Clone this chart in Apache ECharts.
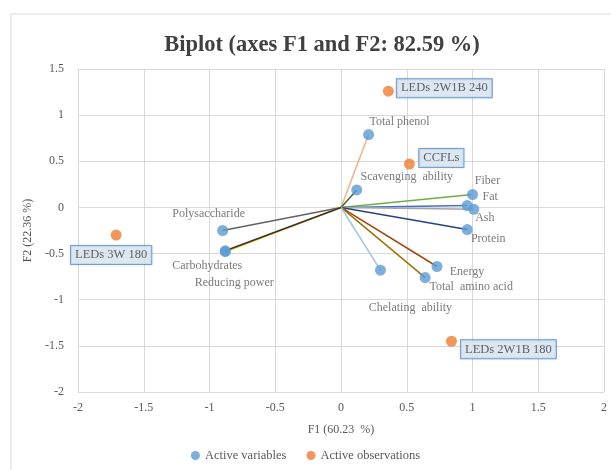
<!DOCTYPE html>
<html>
<head>
<meta charset="utf-8">
<script src="https://cdn.jsdelivr.net/npm/echarts@6/dist/echarts.min.js"></script>
<style>
  html, body { margin: 0; padding: 0; background: #fff; }
  #chart { width: 611px; height: 470px; }
</style>
</head>
<body>
<div id="chart"></div>
<script>
// active variables (F1, F2)
const varNames = ['Total phenol', 'Scavenging  ability', 'Fiber', 'Fat', 'Ash', 'Protein',
  'Energy', 'Total  amino acid', 'Chelating  ability', 'Polysaccharide', 'Carbohydrates', 'Reducing power'];
const varF1 = [0.21, 0.12, 1.00, 0.96, 1.01, 0.96, 0.73, 0.64, 0.30, -0.90, -0.88, -0.88];
const varF2 = [0.79, 0.19, 0.14, 0.02, -0.02, -0.24, -0.64, -0.76, -0.68, -0.25, -0.48, -0.47];

// active observations
const obsNames = ['LEDs 2W1B 240', 'CCFLs', 'LEDs 3W 180', 'LEDs 2W1B 180'];
const obsF1 = [0.36, 0.52, -1.71, 0.84];
const obsF2 = [1.26, 0.47, -0.30, -1.45];

// styling
const lineColors = ['#F4B183', '#43682B', '#70AD47', '#4472C4', '#A5A5A5', '#264478',
  '#9E480E', '#997300', '#9DC3E6', '#636363', '#FFC000', '#333333'];
const varLabelOffsets = [[31, -13], [50, -13], [15, -14], [23, -9], [11, 9], [21, 9],
  [30, 5], [46, 9], [30, 38], [-14, -17], [-18, 14], [9, 32]];
const obsLabelOffsets = [[56, -3], [32, -6], [-5, 20], [57, 8]];

const font = 'Liberation Serif';
const chart = echarts.init(document.getElementById('chart'));

const series = [];
varNames.forEach((n, i) => {
  series.push({
    name: 'line' + i,
    type: 'line',
    data: [[0, 0], [varF1[i], varF2[i]]],
    symbol: 'none',
    lineStyle: { color: lineColors[i], width: 1.5 },
    silent: true,
    z: 2
  });
});
series.push({
  name: 'Active variables',
  type: 'scatter',
  symbolSize: 11,
  itemStyle: { color: '#5B9BD5' },
  z: 3,
  data: varNames.map((n, i) => ({
    name: n,
    value: [varF1[i], varF2[i]],
    label: { offset: varLabelOffsets[i] }
  })),
  label: {
    show: true,
    position: 'inside',
    formatter: p => p.name,
    color: '#595959',
    fontFamily: font,
    fontSize: 12
  }
});
series.push({
  name: 'Active observations',
  type: 'scatter',
  symbolSize: 11,
  itemStyle: { color: '#ED7D31' },
  z: 3,
  data: obsNames.map((n, i) => ({
    name: n,
    value: [obsF1[i], obsF2[i]],
    label: { offset: obsLabelOffsets[i] }
  })),
  label: {
    show: true,
    position: 'inside',
    formatter: p => p.name,
    color: '#404040',
    fontFamily: font,
    fontSize: 12.5,
    backgroundColor: '#DDEBF7',
    borderColor: '#5B9BD5',
    borderWidth: 1,
    padding: [3, 4, 2, 4],
    shadowColor: 'rgba(0,0,0,0.2)',
    shadowBlur: 2
  }
});

chart.setOption({
  animation: false,
  textStyle: { fontFamily: font },
  title: {
    text: 'Biplot (axes F1 and F2: 82.59 %)',
    left: 317,
    textAlign: 'center',
    top: 29,
    textStyle: { fontFamily: font, fontSize: 22.5, fontWeight: 'bold', color: '#404040' }
  },
  graphic: [{
    type: 'rect',
    shape: { x: 11, y: 14, width: 620, height: 470 },
    style: { fill: 'none', stroke: '#D9D9D9', lineWidth: 1 },
    silent: true,
    z: -1
  }],
  legend: {
    data: ['Active variables', 'Active observations'],
    bottom: 3,
    left: 'center',
    itemWidth: 9,
    itemHeight: 9,
    itemGap: 20,
    icon: 'circle',
    textStyle: { fontFamily: font, fontSize: 12.5, color: '#595959' }
  },
  grid: { left: 78, right: 7, top: 69, bottom: 78 },
  xAxis: {
    type: 'value',
    min: -2, max: 2, interval: 0.5,
    name: 'F1 (60.23  %)',
    nameLocation: 'middle',
    nameGap: 32,
    nameTextStyle: { fontFamily: font, fontSize: 12, color: '#595959' },
    axisLine: { show: false },
    axisTick: { show: false },
    axisLabel: { color: '#595959', fontSize: 12, fontFamily: font, margin: 10 },
    splitLine: { lineStyle: { color: '#D9D9D9', width: 1 } }
  },
  yAxis: {
    type: 'value',
    min: -2, max: 1.5, interval: 0.5,
    name: 'F2 (22.36 %)',
    nameLocation: 'middle',
    nameGap: 36,
    nameTextStyle: { fontFamily: font, fontSize: 12, color: '#595959' },
    axisLine: { show: false },
    axisTick: { show: false },
    axisLabel: { color: '#595959', fontSize: 12, fontFamily: font, margin: 14 },
    splitLine: { lineStyle: { color: '#D9D9D9', width: 1 } }
  },
  series: series
});
</script>
</body>
</html>
